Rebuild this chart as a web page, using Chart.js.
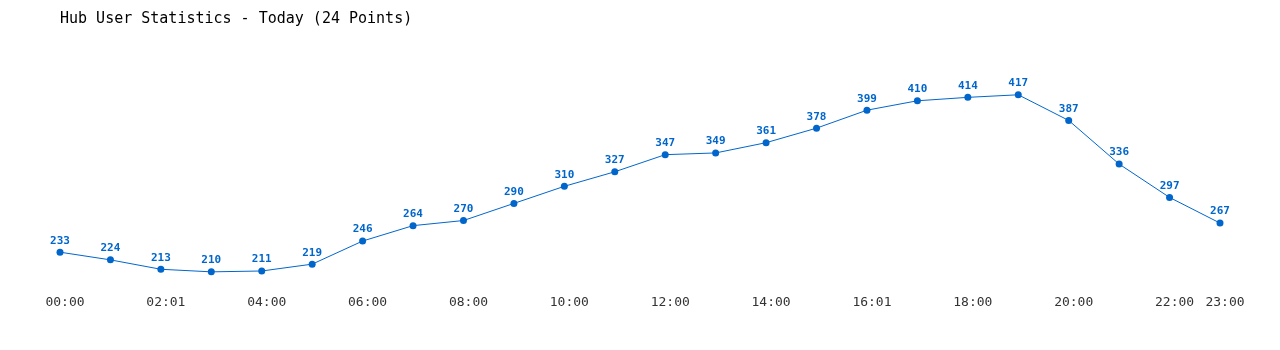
<!DOCTYPE html>
<html>
<head>
<meta charset="utf-8">
<script src="https://cdn.jsdelivr.net/npm/chart.js@4/dist/chart.umd.min.js"></script>
<style>
  html, body { margin: 0; padding: 0; background: #fff; }
  #wrap { width: 1280px; height: 350px; }
</style>
</head>
<body>
<div id="wrap"><canvas id="chart"></canvas></div>
<script>
const hours = ['00:00', '01:00', '02:01', '03:00', '04:00', '05:00', '06:00', '07:00',
  '08:00', '09:00', '10:00', '11:00', '12:00', '13:00', '14:00', '15:00',
  '16:01', '17:00', '18:00', '19:00', '20:00', '21:00', '22:00', '23:00'];
const users = [233, 224, 213, 210, 211, 219, 246, 264, 270, 290, 310, 327,
  347, 349, 361, 378, 399, 410, 414, 417, 387, 336, 297, 267];

const blue = '#0066cc';

// draws the number above each point
const pointLabels = {
  id: 'pointLabels',
  afterDatasetsDraw(chart) {
    const ctx = chart.ctx;
    const meta = chart.getDatasetMeta(0);
    ctx.save();
    ctx.font = 'bold 11px "DejaVu Sans Mono", monospace';
    ctx.fillStyle = blue;
    ctx.textAlign = 'center';
    ctx.textBaseline = 'bottom';
    meta.data.forEach((pt, i) => {
      ctx.fillText(users[i], pt.x, pt.y - 6);
    });
    ctx.restore();
  }
};

const canvas = document.getElementById('chart');

new Chart(canvas, {
  type: 'line',
  data: {
    labels: hours,
    datasets: [{
      label: 'Users',
      data: users,
      borderColor: blue,
      backgroundColor: blue,
      borderWidth: 1,
      pointRadius: 3.5,
      pointBackgroundColor: blue,
      pointBorderWidth: 0,
      tension: 0
    }]
  },
  options: {
    responsive: true,
    maintainAspectRatio: false,
    animation: false,
    layout: { padding: { left: 60, right: 60, top: 0, bottom: 34 } },
    plugins: {
      legend: { display: false },
      tooltip: { enabled: false },
      title: {
        display: true,
        text: 'Hub User Statistics - Today (24 Points)',
        align: 'start',
        color: '#000',
        font: { family: '"DejaVu Sans Mono", monospace', size: 15, weight: 'normal' },
        padding: { top: 10, bottom: 30 }
      }
    },
    scales: {
      x: {
        grid: { display: false },
        border: { display: false },
        ticks: {
          autoSkip: false,
          maxRotation: 0,
          padding: 6,
          labelOffset: 5,
          color: '#333',
          font: { family: '"DejaVu Sans Mono", monospace', size: 13 },
          callback: function (val, i) {
            return (i % 2 === 0 || i === hours.length - 1) ? hours[i] : '';
          }
        }
      },
      y: {
        display: false,
        min: 200,
        max: 460
      }
    }
  },
  plugins: [pointLabels]
});
</script>
</body>
</html>
